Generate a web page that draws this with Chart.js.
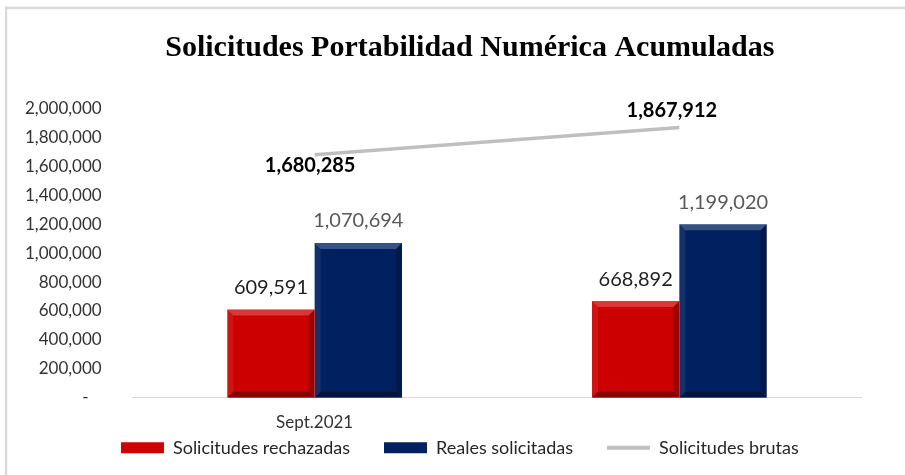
<!DOCTYPE html>
<html>
<head>
<meta charset="utf-8">
<script src="https://cdn.jsdelivr.net/npm/chart.js@4.4.0/dist/chart.umd.min.js"></script>
<style>
  html, body { margin: 0; padding: 0; background: #ffffff; }
  #wrap { position: relative; width: 905px; height: 475px; }
</style>
</head>
<body>
<div id="wrap"><canvas id="c" width="905" height="475"></canvas></div>
<script>
// ---- data ----
const chartTitle = 'Solicitudes Portabilidad Numérica Acumuladas';
const categories = ['Sept.2021', ''];
const seriesNames = ['Solicitudes rechazadas', 'Reales solicitadas', 'Solicitudes brutas'];
const rechazadas = [609591, 668892];
const reales = [1070694, 1199020];
const brutas = [1680285, 1867912];
const yTickValues = [0, 200000, 400000, 600000, 800000, 1000000, 1200000, 1400000, 1600000, 1800000, 2000000];

const fmt = v => v.toLocaleString('en-US');

// frame + background
const framePlugin = {
  id: 'frame',
  beforeDraw(chart) {
    const ctx = chart.ctx;
    ctx.save();
    ctx.fillStyle = '#ffffff';
    ctx.fillRect(0, 0, chart.width, chart.height);
    ctx.fillStyle = '#d9d9d9';
    ctx.fillRect(5, 6.7, chart.width - 5, 2.4);
    ctx.fillRect(5, 6.7, 2.2, chart.height - 6.7);
    ctx.restore();
  }
};

// position tweaks for title and legend boxes (layout offsets only)
const boxShiftPlugin = {
  id: 'boxShift',
  afterLayout(chart, args, opts) {
    const t = chart.titleBlock;
    if (t) { t.left += opts.titleDx; t.right += opts.titleDx; }
    const lg = chart.legend;
    if (lg) {
      lg.left += opts.legendDx; lg.right += opts.legendDx;
      lg.top = opts.legendTop; lg.bottom = chart.height;
      lg.height = lg.bottom - lg.top;
    }
  }
};

// bevel effect on bars
const bevelPlugin = {
  id: 'bevel',
  afterDatasetsDraw(chart) {
    const ctx = chart.ctx;
    chart.data.datasets.forEach((ds, di) => {
      if (ds.type !== 'bar') return;
      const meta = chart.getDatasetMeta(di);
      meta.data.forEach(el => {
        const p = el.getProps(['x', 'y', 'width', 'base'], true);
        const l = p.x - p.width / 2, r = p.x + p.width / 2, t = p.y, b = p.base;
        const s = 6;
        const poly = (pts, col) => {
          ctx.beginPath();
          ctx.moveTo(pts[0][0], pts[0][1]);
          for (let i = 1; i < pts.length; i++) ctx.lineTo(pts[i][0], pts[i][1]);
          ctx.closePath();
          ctx.fillStyle = col;
          ctx.fill();
        };
        ctx.save();
        poly([[l, t], [r, t], [r - s, t + s], [l + s, t + s]], 'rgba(255,255,255,0.22)');
        poly([[l, t], [l + s, t + s], [l + s, b - s], [l, b]], 'rgba(255,255,255,0.08)');
        poly([[r, t], [r - s, t + s], [r - s, b - s], [r, b]], 'rgba(0,0,0,0.22)');
        poly([[l, b], [l + s, b - s], [r - s, b - s], [r, b]], 'rgba(0,0,0,0.35)');
        ctx.restore();
      });
    });
  }
};

// value labels
const labelPlugin = {
  id: 'valueLabels',
  afterDatasetsDraw(chart, args, opts) {
    const ctx = chart.ctx;
    ctx.save();
    ctx.textAlign = 'center';
    ctx.textBaseline = 'middle';
    chart.data.datasets.forEach((ds, di) => {
      const meta = chart.getDatasetMeta(di);
      const st = opts.styles[di];
      ctx.font = st.font;
      ctx.fillStyle = st.color;
      meta.data.forEach((el, i) => {
        const off = st.offsets[i];
        ctx.fillText(fmt(ds.data[i]), el.x + off[0], el.y + off[1]);
      });
    });
    ctx.restore();
  }
};

new Chart(document.getElementById('c'), {
  data: {
    labels: categories,
    datasets: [
      {
        type: 'bar',
        label: seriesNames[0],
        data: rechazadas,
        backgroundColor: '#cc0000',
        borderWidth: 0,
        categoryPercentage: 0.479,
        barPercentage: 1.0
      },
      {
        type: 'bar',
        label: seriesNames[1],
        data: reales,
        backgroundColor: '#002060',
        borderWidth: 0,
        categoryPercentage: 0.479,
        barPercentage: 1.0
      },
      {
        type: 'line',
        label: seriesNames[2],
        data: brutas,
        borderColor: '#bfbfbf',
        backgroundColor: '#bfbfbf',
        borderWidth: 3.5,
        pointRadius: 0,
        tension: 0,
        fill: false
      }
    ]
  },
  options: {
    responsive: false,
    animation: false,
    devicePixelRatio: 1,
    layout: { padding: { left: 10, right: 43.3, top: 0, bottom: 0 } },
    scales: {
      x: {
        grid: { display: false, drawTicks: false },
        border: { display: true, color: '#d9d9d9', width: 1 },
        ticks: { color: '#333333', font: { family: 'Lato', size: 17 }, padding: 15, maxRotation: 0 },
        afterFit(s) { s.height = 36; }
      },
      y: {
        min: 0,
        max: 2000000,
        grid: { display: false, drawTicks: false },
        border: { display: false },
        afterBuildTicks(s) { s.ticks = yTickValues.map(v => ({ value: v })); },
        ticks: {
          color: '#333333',
          font: { family: 'Lato', size: 17 },
          padding: 30.6,
          callback: v => (v === 0 ? '-   ' : fmt(v))
        },
        afterFit(s) { s.width = 122.3; }
      }
    },
    plugins: {
      title: {
        display: true,
        text: chartTitle,
        color: '#000000',
        font: { family: 'Liberation Serif', size: 30, weight: 'bold' },
        padding: { top: 30, bottom: 42.5 }
      },
      legend: {
        position: 'bottom',
        align: 'center',
        maxHeight: 41.3,
        labels: {
          color: '#262626',
          font: { family: 'Lato', size: 18 },
          usePointStyle: true,
          boxHeight: 11,
          pointStyleWidth: 43,
          padding: 34,
          generateLabels(chart) {
            const items = Chart.defaults.plugins.legend.labels.generateLabels(chart);
            items.sort((a, b) => a.datasetIndex - b.datasetIndex);
            items.forEach(it => {
              const ds = chart.data.datasets[it.datasetIndex];
              it.pointStyle = ds.type === 'line' ? 'line' : 'rect';
              if (ds.type === 'line') { it.lineWidth = 4; it.strokeStyle = '#bfbfbf'; }
            });
            return items;
          }
        }
      },
      boxShift: { titleDx: 34, legendDx: 24, legendTop: 404.7 },
      tooltip: { enabled: false },
      valueLabels: {
        styles: [
          { font: '20px Lato', color: '#1f1f1f', offsets: [[0, -22], [0, -21]] },
          { font: '20px Lato', color: '#595959', offsets: [[0, -22], [0, -22]] },
          { font: 'bold 20px Lato', color: '#000000', offsets: [[-4.5, 11], [-7.5, -17.5]] }
        ]
      }
    }
  },
  plugins: [framePlugin, boxShiftPlugin, bevelPlugin, labelPlugin]
});
</script>
</body>
</html>
